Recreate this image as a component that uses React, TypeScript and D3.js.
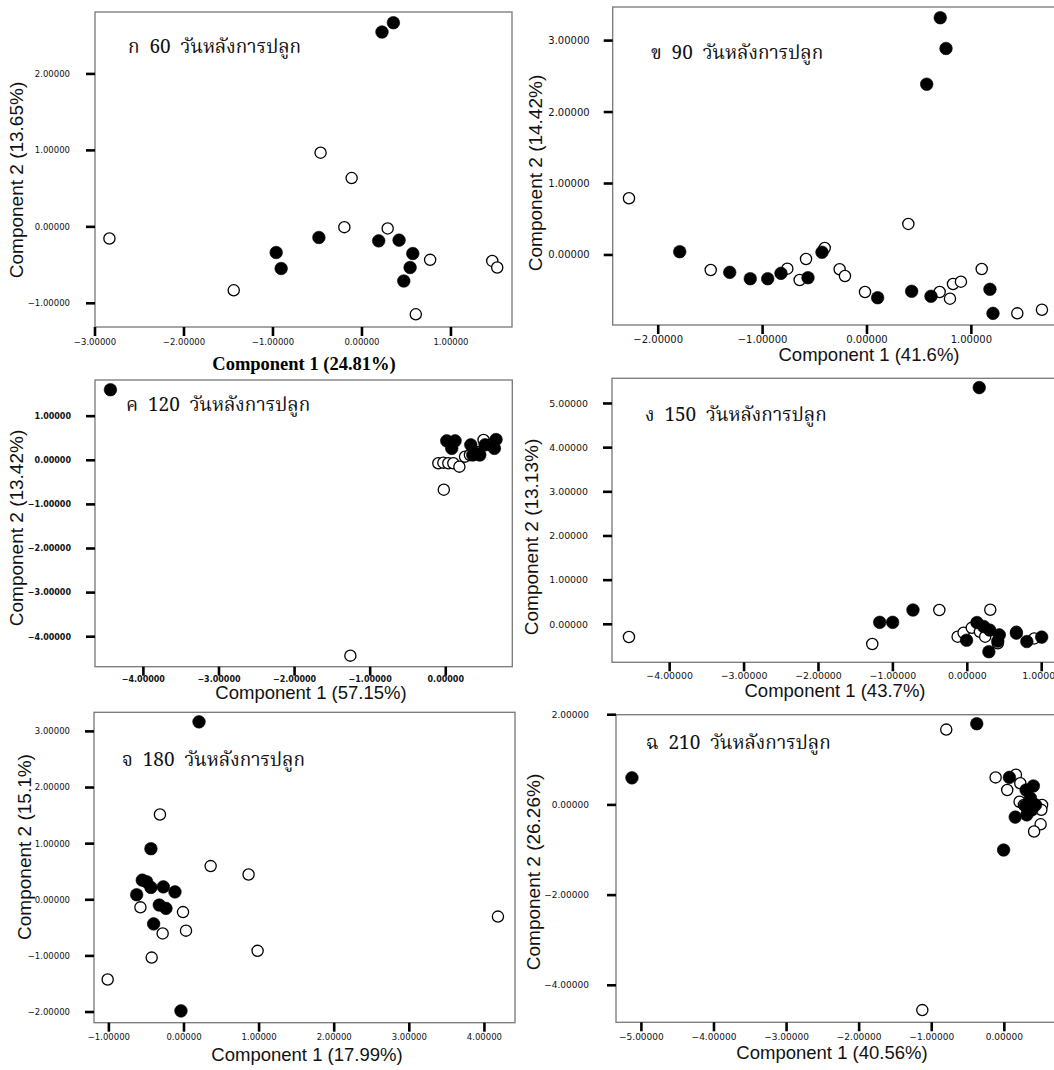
import React from 'react';
import * as d3 from 'd3';

type Pt = [number, number];

// ---- Panel ก : 60 days ----
const filled60: Pt[] = [[0.225,2.548],[0.353,2.67],[-0.484,-0.139],[-0.964,-0.336],[-0.908,-0.545],[0.188,-0.183],[0.417,-0.174],[0.571,-0.349],[0.541,-0.532],[0.47,-0.708]];
const open60: Pt[] = [[-2.838,-0.152],[-1.441,-0.83],[-0.465,0.97],[-0.116,0.638],[-0.198,-0.004],[0.289,-0.021],[0.766,-0.432],[1.464,-0.446],[1.52,-0.532],[0.605,-1.144]];
const xTicks60 = [-3,-2,-1,0,1];
const yTicks60 = [-1,0,1,2];

// ---- Panel ข : 90 days ----
const filled90: Pt[] = [[0.702,3.32],[0.757,2.89],[0.572,2.39],[-1.794,0.046],[-1.315,-0.243],[-1.118,-0.332],[-0.951,-0.332],[-0.824,-0.257],[-0.565,-0.318],[-0.431,0.038],[0.102,-0.598],[0.428,-0.508],[0.613,-0.578],[1.178,-0.48],[1.207,-0.817]];
const open90: Pt[] = [[-2.28,0.794],[-1.497,-0.21],[-0.763,-0.192],[-0.645,-0.35],[-0.584,-0.056],[-0.405,0.098],[-0.262,-0.2],[-0.211,-0.294],[-0.019,-0.518],[0.396,0.434],[0.696,-0.518],[0.795,-0.612],[0.824,-0.406],[0.9,-0.374],[1.099,-0.196],[1.44,-0.817],[1.676,-0.766]];
const xTicks90 = [-2,-1,0,1];
const yTicks90 = [0,1,2,3];

// ---- Panel ค : 120 days ----
const filled120: Pt[] = [[-4.436,1.60],[0.013,0.44],[0.123,0.44],[0.079,0.27],[0.331,0.35],[0.357,0.12],[0.41,0.15],[0.45,0.12],[0.52,0.35],[0.665,0.47],[0.643,0.27]];
const open120: Pt[] = [[-1.262,-4.43],[-0.026,-0.667],[-0.098,-0.068],[-0.032,-0.054],[0.034,-0.068],[0.10,-0.068],[0.18,-0.145],[0.255,0.082],[0.32,0.12],[0.41,0.19],[0.50,0.46],[0.59,0.35]];
const xTicks120 = [-4,-3,-2,-1,0];
const yTicks120 = [-4,-3,-2,-1,0,1];

// ---- Panel ง : 150 days ----
const filled150: Pt[] = [[0.161,5.36],[-1.177,0.045],[-1.003,0.045],[-0.73,0.324],[0.13,0.04],[0.22,-0.05],[0.30,-0.13],[-0.01,-0.36],[0.43,-0.24],[0.41,-0.38],[0.29,-0.62],[0.66,-0.2],[0.80,-0.39],[1.0,-0.29]];
const open150: Pt[] = [[-4.547,-0.287],[-1.277,-0.446],[-0.376,0.324],[0.309,0.33],[-0.13,-0.28],[-0.05,-0.19],[0.06,-0.08],[0.17,-0.17],[0.24,-0.28],[0.41,-0.43],[0.66,-0.17],[0.90,-0.32]];
const xTicks150 = [-4,-3,-2,-1,0,1];
const yTicks150 = [0,1,2,3,4,5];

// ---- Panel จ : 180 days ----
const filled180: Pt[] = [[0.2,3.17],[-0.44,0.91],[-0.555,0.35],[-0.497,0.32],[-0.63,0.09],[-0.44,0.22],[-0.275,0.23],[-0.12,0.14],[-0.329,-0.094],[-0.24,-0.153],[-0.404,-0.43],[-0.04,-1.98]];
const open180: Pt[] = [[-0.32,1.52],[0.355,0.6],[0.86,0.45],[-0.58,-0.135],[-0.013,-0.22],[0.027,-0.55],[-0.284,-0.6],[-0.43,-1.03],[0.98,-0.91],[-1.016,-1.42],[4.18,-0.30]];
const xTicks180 = [-1,0,1,2,3,4];
const yTicks180 = [-2,-1,0,1,2,3];

// ---- Panel ฉ : 210 days ----
const filled210: Pt[] = [[-5.13,0.6],[-0.38,1.80],[-0.01,-1.0],[0.07,0.61],[0.30,0.33],[0.40,0.42],[0.36,0.15],[0.43,0.0],[0.29,-0.02],[0.15,-0.27],[0.31,-0.22],[0.38,-0.11]];
const open210: Pt[] = [[-0.80,1.67],[-1.13,-4.55],[-0.12,0.61],[0.16,0.67],[0.04,0.33],[0.22,0.48],[0.21,0.07],[0.52,0.0],[0.51,-0.11],[0.50,-0.43],[0.41,-0.59],[0.27,0.0]];
const xTicks210 = [-5,-4,-3,-2,-1,0];
const yTicks210 = [-4,-2,0,2];

const titles = ['ก  60  วันหลังการปลูก','ข  90  วันหลังการปลูก','ค  120  วันหลังการปลูก','ง  150  วันหลังการปลูก','จ  180  วันหลังการปลูก','ฉ  210  วันหลังการปลูก'];
const xLabels = ['Component 1 (24.81%)','Component 1 (41.6%)','Component 1 (57.15%)','Component 1 (43.7%)','Component 1 (17.99%)','Component 1 (40.56%)'];
const yLabels = ['Component 2 (13.65%)','Component 2 (14.42%)','Component 2 (13.42%)','Component 2 (13.13%)','Component 2 (15.1%)','Component 2 (26.26%)'];

interface PanelCfg {
  filled: Pt[]; open: Pt[]; xTicks: number[]; yTicks: number[];
  xDomain: [number, number]; yDomain: [number, number];
  fx0: number; fx1: number; fy0: number; fy1: number;
  title: string; titleX: number; titleY: number;
  xLabel: string; xLabelX: number; xLabelY: number; xLabelBold?: boolean;
  yLabel: string; yLabelX: number; yLabelY: number;
  tickFont: number; tickBold?: boolean; tickLabelGap: number; xTickLabelDy: number;
}

const panels: PanelCfg[] = [
  { filled: filled60, open: open60, xTicks: xTicks60, yTicks: yTicks60, xDomain: [-3.0, 1.686], yDomain: [-1.31, 2.81],
    fx0: 95, fx1: 512, fy0: 12, fy1: 327, title: titles[0], titleX: 128, titleY: 53,
    xLabel: xLabels[0], xLabelX: 304, xLabelY: 370, xLabelBold: true, yLabel: yLabels[0], yLabelX: 23, yLabelY: 180,
    tickFont: 8.5, tickLabelGap: 25, xTickLabelDy: 18 },
  { filled: filled90, open: open90, xTicks: xTicks90, yTicks: yTicks90, xDomain: [-2.436, 1.849], yDomain: [-0.98, 3.47],
    fx0: 612.7, fx1: 1060, fy0: 7, fy1: 325, title: titles[1], titleX: 651, titleY: 59,
    xLabel: xLabels[1], xLabelX: 869, xLabelY: 361, yLabel: yLabels[1], yLabelX: 542, yLabelY: 173,
    tickFont: 10, tickLabelGap: 23, xTickLabelDy: 17.5 },
  { filled: filled120, open: open120, xTicks: xTicks120, yTicks: yTicks120, xDomain: [-4.64, 0.88], yDomain: [-4.68, 1.82],
    fx0: 95, fx1: 512.3, fy0: 380, fy1: 666.7, title: titles[2], titleX: 126, titleY: 411,
    xLabel: xLabels[2], xLabelX: 311, xLabelY: 699, yLabel: yLabels[2], yLabelX: 23, yLabelY: 528,
    tickFont: 8, tickBold: true, tickLabelGap: 24, xTickLabelDy: 15 },
  { filled: filled150, open: open150, xTicks: xTicks150, yTicks: yTicks150, xDomain: [-4.775, 1.246], yDomain: [-0.86, 5.57],
    fx0: 612, fx1: 1060, fy0: 378.3, fy1: 662.3, title: titles[3], titleX: 645, titleY: 421,
    xLabel: xLabels[3], xLabelX: 835, xLabelY: 697, yLabel: yLabels[3], yLabelX: 538, yLabelY: 537,
    tickFont: 9.4, tickLabelGap: 24, xTickLabelDy: 16.5 },
  { filled: filled180, open: open180, xTicks: xTicks180, yTicks: yTicks180, xDomain: [-1.198, 4.407], yDomain: [-2.19, 3.34],
    fx0: 94, fx1: 515, fy0: 712.3, fy1: 1022.7, title: titles[4], titleX: 122, titleY: 766,
    xLabel: xLabels[4], xLabelX: 307, xLabelY: 1061, yLabel: yLabels[4], yLabelX: 31, yLabelY: 847,
    tickFont: 8.5, tickLabelGap: 24, xTickLabelDy: 17 },
  { filled: filled210, open: open210, xTicks: xTicks210, yTicks: yTicks210, xDomain: [-5.35, 0.767], yDomain: [-4.82, 2.0],
    fx0: 616, fx1: 1060, fy0: 714.7, fy1: 1022.3, title: titles[5], titleX: 646, titleY: 749,
    xLabel: xLabels[5], xLabelX: 832, xLabelY: 1059, yLabel: yLabels[5], yLabelX: 540, yLabelY: 872,
    tickFont: 9, tickLabelGap: 27, xTickLabelDy: 18 },
];

const fmt = d3.format('.5f');
const SANS = '"Liberation Sans", Arial, sans-serif';
const TICKFONT = '"DejaVu Sans", Verdana, sans-serif';
const THAI = '"Noto Serif Thai", "Noto Sans Thai", "TH Sarabun New", Garuda, Loma, "Tlwg Typo", serif';

function Panel({ c }: { c: PanelCfg }) {
  const x = d3.scaleLinear().domain(c.xDomain).range([c.fx0, c.fx1]);
  const y = d3.scaleLinear().domain(c.yDomain).range([c.fy1, c.fy0]);
  return (
    <g>
      <rect x={c.fx0} y={c.fy0} width={c.fx1 - c.fx0} height={c.fy1 - c.fy0} fill="#fff" stroke="#777" strokeWidth={1.3} />
      {c.yTicks.map((t) => (
        <g key={'y' + t}>
          <line x1={c.fx0 - 9} x2={c.fx0} y1={y(t)} y2={y(t)} stroke="#000" strokeWidth={2.6} />
          <text x={c.fx0 - c.tickLabelGap} y={y(t)} dy="0.35em" textAnchor="end" fontFamily={TICKFONT}
            fontSize={c.tickFont} fontWeight={c.tickBold ? 'bold' : 'normal'} fill="#111">{fmt(t)}</text>
        </g>
      ))}
      {c.xTicks.map((t) => (
        <g key={'x' + t}>
          <line x1={x(t)} x2={x(t)} y1={c.fy1} y2={c.fy1 + 9} stroke="#000" strokeWidth={2.6} />
          <text x={x(t)} y={c.fy1 + c.xTickLabelDy} textAnchor="middle" fontFamily={TICKFONT}
            fontSize={c.tickFont} fontWeight={c.tickBold ? 'bold' : 'normal'} fill="#111">{fmt(t)}</text>
        </g>
      ))}
      {c.open.map((p, i) => (
        <circle key={'o' + i} cx={x(p[0])} cy={y(p[1])} r={5.6} fill="#fff" stroke="#000" strokeWidth={1.3} />
      ))}
      {c.filled.map((p, i) => (
        <circle key={'f' + i} cx={x(p[0])} cy={y(p[1])} r={6.3} fill="#000" stroke="#000" strokeWidth={0.6} />
      ))}
      <text x={c.titleX} y={c.titleY} fontFamily={THAI} fontSize={19} fill="#111" style={{ whiteSpace: 'pre' }}>{c.title}</text>
      {c.xLabelBold ? (
        <text x={c.xLabelX} y={c.xLabelY} textAnchor="middle" fontFamily='"Liberation Serif", "Times New Roman", serif'
          fontWeight="bold" fontSize={18.5} fill="#000">{c.xLabel}</text>
      ) : (
        <text x={c.xLabelX} y={c.xLabelY} textAnchor="middle" fontFamily={SANS} fontSize={18.5} fill="#111">{c.xLabel}</text>
      )}
      <text transform={`translate(${c.yLabelX},${c.yLabelY}) rotate(-90)`} textAnchor="middle" fontFamily={SANS}
        fontSize={19} fill="#111">{c.yLabel}</text>
    </g>
  );
}

export default function App() {
  return (
    <svg width={1054} height={1070} style={{ position: 'absolute', left: 0, top: 0, background: '#fff' }}>
      <rect x={0} y={0} width={1054} height={1070} fill="#fff" />
      {panels.map((c, i) => <Panel key={i} c={c} />)}
    </svg>
  );
}
